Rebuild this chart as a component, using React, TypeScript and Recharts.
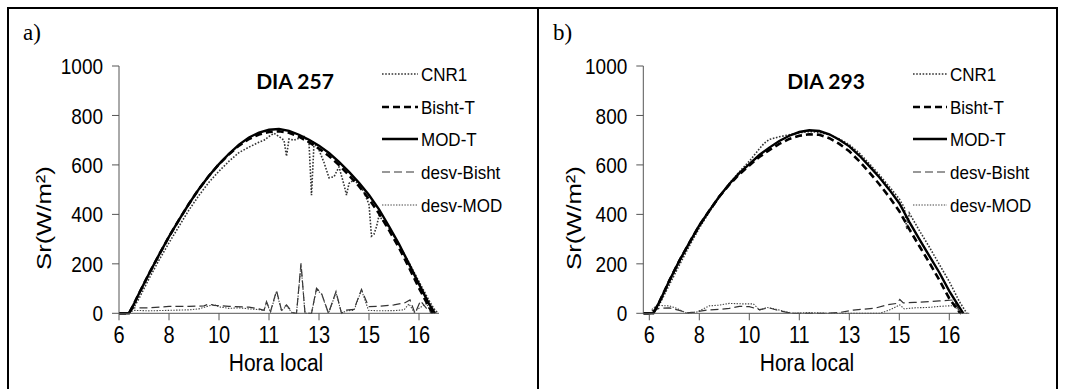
import { LineChart, Line, XAxis, YAxis } from 'recharts';

// eixo x: posição em passos de 10 min a partir das 6 h, rótulos como no original
const ticksHora = [0, 10, 20, 30, 40, 50, 60];
const rotulosHora = ['6', '8', '10', '11', '13', '15', '16'];
const ticksSr = [0, 200, 400, 600, 800, 1000];

// ---- DIA 257 (painel a) ----
const cnr1A_x = [0, 2, 3, 4, 6, 8, 10, 12, 14, 16, 18, 20, 22, 24, 26, 28, 29, 30, 31, 32, 33, 33.5, 34, 35, 36, 37, 38, 38.5, 39, 40, 41, 42, 43, 44, 45, 45.5, 46, 47, 48, 49, 50, 50.5, 51, 51.5, 52, 53, 54, 56, 58, 60, 62, 63, 63.8];
const cnr1A_y = [0, 0, 25, 60, 140, 215, 285, 352, 418, 477, 530, 575, 615, 650, 672, 692, 700, 715, 728, 715, 700, 635, 705, 700, 708, 715, 690, 478, 688, 660, 610, 548, 552, 592, 520, 478, 525, 540, 520, 490, 440, 312, 320, 350, 395, 370, 345, 278, 205, 128, 52, 18, 0];
const bishtA_x = [0, 2, 3, 4, 6, 8, 10, 12, 14, 16, 18, 20, 22, 24, 26, 28, 30, 32, 34, 36, 38, 40, 42, 44, 46, 48, 50, 52, 54, 56, 58, 60, 62, 62.8];
const bishtA_y = [0, 0, 38, 80, 160, 236, 310, 378, 443, 503, 556, 603, 643, 678, 705, 723, 733, 736, 730, 714, 692, 666, 636, 600, 558, 514, 462, 404, 336, 265, 185, 102, 25, 0];
const modA_x = [0, 2, 3, 4, 6, 8, 10, 12, 14, 16, 18, 20, 22, 24, 26, 28, 30, 32, 34, 36, 38, 40, 42, 44, 46, 48, 50, 52, 54, 56, 58, 60, 62, 63.2];
const modA_y = [0, 0, 38, 80, 160, 236, 310, 378, 443, 503, 556, 603, 645, 682, 711, 731, 742, 745, 738, 722, 702, 678, 648, 612, 572, 528, 478, 420, 352, 280, 200, 118, 38, 0];
const desvBishtA_x = [2, 3, 6, 10, 14, 17, 18, 19, 22, 26, 28, 29, 29.5, 30.3, 31.5, 32.5, 33.5, 34.7, 35.5, 36.4, 37.2, 38.5, 39.5, 40.5, 41.9, 43.4, 44.5, 45.5, 47, 48.5, 49.9, 52, 55, 57.2, 58.2, 59.2, 60.3, 61.5, 62.5];
const desvBishtA_y = [5, 22, 22, 28, 28, 30, 38, 32, 28, 25, 18, 12, 47, 7, 92, 13, 34, 3, 0, 202, 0, 0, 101, 81, 0, 88, 0, 13, 16, 97, 27, 28, 34, 43, 54, 0, 50, 20, 0];
const desvModA_x = [2, 3, 6, 10, 14, 16, 18, 19, 20, 22, 24, 26, 28, 29, 29.5, 30.3, 31.5, 32.5, 33.5, 34.7, 35.5, 36.4, 37.2, 38.5, 39.5, 40.5, 41.9, 43.4, 44.5, 45.5, 47, 48.5, 49.9, 52, 55, 57, 58, 59, 60, 61.5, 62.5];
const desvModA_y = [3, 12, 10, 12, 14, 18, 30, 36, 26, 20, 22, 18, 15, 10, 45, 5, 88, 10, 30, 0, 0, 196, 0, 0, 96, 78, 0, 84, 0, 10, 12, 94, 12, 10, 11, 14, 38, 5, 20, 40, 0];

// ---- DIA 293 (painel b) ----
const cnr1B_x = [-1.2, 0.8, 2, 4, 6, 8, 10, 12, 14, 16, 18, 20, 21, 22, 23, 24, 26, 28, 30, 32, 34, 36, 38, 40, 42, 44, 46, 48, 50, 51, 51.5, 52, 54, 56, 58, 60, 62, 63.5];
const cnr1B_y = [0, 0, 35, 115, 195, 272, 345, 410, 470, 525, 572, 615, 640, 665, 688, 703, 714, 722, 730, 735, 732, 722, 705, 682, 648, 605, 560, 512, 462, 428, 340, 405, 335, 268, 198, 128, 48, 0];
const bishtB_x = [-1.2, 0.8, 2, 4, 6, 8, 10, 12, 14, 16, 18, 20, 22, 24, 26, 28, 30, 32, 34, 36, 38, 40, 42, 44, 46, 48, 50, 52, 54, 56, 58, 60, 62, 62.4];
const bishtB_y = [0, 0, 45, 132, 212, 285, 355, 415, 472, 520, 562, 598, 632, 660, 685, 705, 718, 724, 722, 708, 685, 655, 615, 570, 522, 470, 413, 340, 272, 205, 135, 60, 5, 0];
const modB_x = [-1.2, 0.8, 2, 4, 6, 8, 10, 12, 14, 16, 18, 20, 22, 24, 26, 28, 30, 32, 34, 36, 38, 40, 42, 44, 46, 48, 50, 52, 54, 56, 58, 60, 62, 62.8];
const modB_y = [0, 0, 45, 132, 212, 285, 355, 415, 472, 523, 567, 603, 640, 670, 697, 718, 733, 740, 737, 724, 702, 675, 638, 595, 550, 500, 445, 370, 300, 232, 165, 90, 25, 0];
const desvBishtB_x = [0.5, 2, 4, 6, 7.5, 9, 11.5, 14, 16, 18, 20, 22, 24, 26, 27.5, 29, 32, 35, 38, 40.8, 43, 45, 47.5, 49.5, 50.1, 50.8, 53, 56, 58, 60.8, 62.3];
const desvBishtB_y = [10, 20, 22, 12, 2, 5, 13, 16, 20, 28, 27, 15, 22, 10, 4, 0, 0, 0, 3, 13, 17, 20, 34, 40, 56, 42, 44, 47, 50, 54, 0];
const desvModB_x = [0.5, 1.5, 4, 5.5, 7.5, 9.5, 12, 14, 16, 18.8, 20.8, 22.1, 23.5, 25, 27, 28.8, 32, 36, 40, 44, 46.1, 48, 50.1, 51, 53, 56, 58, 60.8, 62.5];
const desvModB_y = [15, 32, 30, 20, 0, 5, 30, 33, 40, 38, 38, 13, 24, 18, 8, 0, 3, 0, 0, 0, 0, 13, 34, 18, 22, 24, 28, 31, 0];

const nomesSeries = ['CNR1', 'Bisht-T', 'MOD-T', 'desv-Bisht', 'desv-MOD'];

const estilos: Record<string, { stroke: string; width: number; dash?: string }> = {
  'CNR1': { stroke: '#333', width: 1.6, dash: '1.6 1.6' },
  'Bisht-T': { stroke: '#000', width: 2.6, dash: '7 4' },
  'MOD-T': { stroke: '#000', width: 2.4 },
  'desv-Bisht': { stroke: '#333', width: 1.2, dash: '8 4' },
  'desv-MOD': { stroke: '#444', width: 1.1, dash: '1.4 1.4' },
};

const pares = (xs: number[], ys: number[]) => xs.map((x, i) => ({ x, y: ys[i] }));

const seriesA: Record<string, { x: number; y: number }[]> = {
  'CNR1': pares(cnr1A_x, cnr1A_y),
  'Bisht-T': pares(bishtA_x, bishtA_y),
  'MOD-T': pares(modA_x, modA_y),
  'desv-Bisht': pares(desvBishtA_x, desvBishtA_y),
  'desv-MOD': pares(desvModA_x, desvModA_y),
};
const seriesB: Record<string, { x: number; y: number }[]> = {
  'CNR1': pares(cnr1B_x, cnr1B_y),
  'Bisht-T': pares(bishtB_x, bishtB_y),
  'MOD-T': pares(modB_x, modB_y),
  'desv-Bisht': pares(desvBishtB_x, desvBishtB_y),
  'desv-MOD': pares(desvModB_x, desvModB_y),
};

const ordemDesenho = ['desv-Bisht', 'desv-MOD', 'CNR1', 'Bisht-T', 'MOD-T'];
const fonte = '"Liberation Sans", Arial, sans-serif';
// o original tem o texto dos eixos um pouco esticado na vertical
const esticarX = 1.15;
const esticarY = 1.2;

function TickX(props: any) {
  const { x, y, payload } = props;
  return (
    <text
      transform={`translate(${x},${y}) scale(1,${esticarX})`}
      textAnchor="middle"
      dy="0.71em"
      fontSize={20}
      fontFamily={fonte}
      fill="#000"
    >
      {rotulosHora[ticksHora.indexOf(payload.value)]}
    </text>
  );
}

function TickY(props: any) {
  const { x, y, payload } = props;
  return (
    <text
      transform={`translate(${x},${y}) scale(1,${esticarY})`}
      textAnchor="end"
      dy="0.355em"
      fontSize={19}
      fontFamily={fonte}
      fill="#000"
    >
      {payload.value}
    </text>
  );
}

function Painel({ series, xMin, yAxisWidth, left }: {
  series: Record<string, { x: number; y: number }[]>;
  xMin: number;
  yAxisWidth: number;
  left: number;
}) {
  const plotW = (64 - xMin) * 5;
  return (
    <div style={{ position: 'absolute', left, top: 0 }}>
      <LineChart
        width={540}
        height={389}
        margin={{ top: 66, right: 540 - yAxisWidth - plotW, bottom: 35.7, left: 0 }}
      >
        <XAxis
          dataKey="x"
          type="number"
          domain={[xMin, 64]}
          allowDataOverflow
          ticks={ticksHora}
          interval={0}
          height={40}
          tickSize={7}
          tickMargin={6}
          axisLine={{ stroke: '#555' }}
          tickLine={{ stroke: '#555' }}
          tick={<TickX />}
        />
        <YAxis
          type="number"
          domain={[0, 1000]}
          ticks={ticksSr}
          interval={0}
          width={yAxisWidth}
          tickSize={7}
          tickMargin={9}
          axisLine={{ stroke: '#555' }}
          tickLine={{ stroke: '#555' }}
          tick={<TickY />}
        />
        {ordemDesenho.map((nome) => (
          <Line
            key={nome}
            data={series[nome]}
            dataKey="y"
            type="linear"
            dot={false}
            activeDot={false}
            isAnimationActive={false}
            stroke={estilos[nome].stroke}
            strokeWidth={estilos[nome].width}
            strokeDasharray={estilos[nome].dash}
          />
        ))}
      </LineChart>
    </div>
  );
}

function Legenda({ x1, x2, tx }: { x1: number; x2: number; tx: number }) {
  const linhasY = [74, 107, 139, 172, 205];
  return (
    <g>
      {nomesSeries.map((nome, i) => (
        <g key={nome}>
          <line
            x1={x1}
            x2={x2}
            y1={linhasY[i]}
            y2={linhasY[i]}
            stroke={estilos[nome].stroke}
            strokeWidth={estilos[nome].width}
            strokeDasharray={estilos[nome].dash}
          />
          <text
            transform={`translate(${tx},${linhasY[i]}) scale(1,1.1)`}
            dy="0.355em"
            fontSize={17}
            fontFamily={fonte}
            fill="#000"
          >
            {nome}
          </text>
        </g>
      ))}
    </g>
  );
}

export default function App() {
  return (
    <div style={{ position: 'absolute', left: 0, top: 0, width: 1065, height: 389, background: '#fff', overflow: 'hidden' }}>
      <Painel series={seriesA} xMin={0} yAxisWidth={119} left={0} />
      <Painel series={seriesB} xMin={-1.2} yAxisWidth={113.3} left={530} />
      <svg width={1065} height={389} style={{ position: 'absolute', left: 0, top: 0, pointerEvents: 'none' }}>
        {/* molduras */}
        <rect x={7} y={7} width={1051} height={2} fill="#000" />
        <rect x={7} y={7} width={2} height={382} fill="#000" />
        <rect x={537} y={7} width={2} height={382} fill="#000" />
        <rect x={1056} y={7} width={2} height={382} fill="#000" />

        <text x={23} y={40} fontSize={23} fontFamily='"Liberation Serif", "Times New Roman", serif' fill="#000">a)</text>
        <text x={553} y={40} fontSize={23} fontFamily='"Liberation Serif", "Times New Roman", serif' fill="#000">b)</text>

        <text x={295} y={89} textAnchor="middle" fontSize={21} fontWeight="bold" fontFamily="Lato, sans-serif" fill="#000">DIA 257</text>
        <text x={826} y={89} textAnchor="middle" fontSize={21} fontWeight="bold" fontFamily="Lato, sans-serif" fill="#000">DIA 293</text>

        <text transform="translate(44,218) scale(1,1.22) rotate(-90)" textAnchor="middle" dy="0.35em" fontSize={21} fontFamily={fonte} fill="#000">Sr(W/m²)</text>
        <text transform="translate(574,218) scale(1,1.22) rotate(-90)" textAnchor="middle" dy="0.35em" fontSize={21} fontFamily={fonte} fill="#000">Sr(W/m²)</text>

        <text transform="translate(276,363) scale(1,1.1)" textAnchor="middle" dy="0.35em" fontSize={21} fontFamily={fonte} fill="#000">Hora local</text>
        <text transform="translate(807,363) scale(1,1.1)" textAnchor="middle" dy="0.35em" fontSize={21} fontFamily={fonte} fill="#000">Hora local</text>

        <Legenda x1={382} x2={418} tx={421} />
        <Legenda x1={913} x2={947} tx={950} />
      </svg>
    </div>
  );
}
